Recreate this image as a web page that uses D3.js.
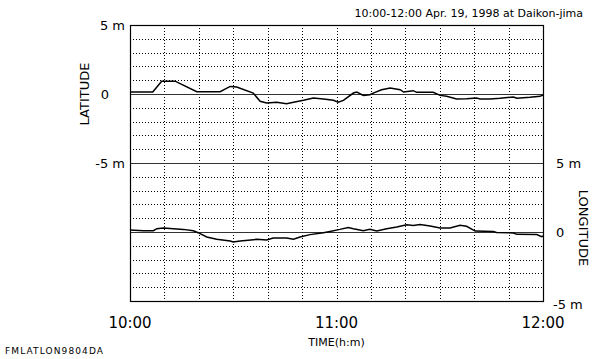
<!DOCTYPE html>
<html>
<head>
<meta charset="utf-8">
<script src="https://d3js.org/d3.v7.min.js"></script>
<style>
  body { margin: 0; background: #fff; }
  text { font-family: "DejaVu Sans", Verdana, sans-serif; fill: #000; }
</style>
</head>
<body>
<div id="chart"></div>
<script>
// minutes after 10:00
var latMinutes = [0, 6.6, 9.2, 13.1, 19.4, 26.2, 29.1, 31.0, 35.8, 37.8, 39.7, 42.6, 45.5, 47.5, 50.4, 53.3, 56.2, 59.1, 60.5, 62.0, 64.9, 65.9, 67.8, 69.7, 71.2, 73.1, 75.6, 78.5, 79.5, 82.3, 83.3, 88.1, 90.1, 92.0, 94.9, 97.8, 100.7, 101.7, 104.6, 107.5, 111.4, 112.4, 116.2, 119.1, 120];
var latValues = [0.15, 0.15, 0.93, 0.93, 0.17, 0.17, 0.55, 0.50, 0.07, -0.53, -0.65, -0.60, -0.70, -0.60, -0.46, -0.29, -0.36, -0.46, -0.60, -0.46, 0.07, 0.14, -0.10, -0.05, 0.12, 0.31, 0.43, 0.31, 0.14, 0.24, 0.12, 0.12, -0.10, -0.17, -0.36, -0.34, -0.29, -0.36, -0.36, -0.31, -0.22, -0.31, -0.24, -0.17, -0.07];

var lonMinutes = [0, 3.9, 6.8, 7.8, 9.7, 12.6, 15.5, 18.4, 19.8, 22.3, 25.2, 29.1, 30.0, 32.0, 36.8, 39.7, 41.6, 45.5, 47.5, 49.4, 52.3, 56.2, 58.1, 61.0, 63.4, 64.9, 67.8, 69.7, 71.7, 74.6, 77.5, 80.4, 82.3, 84.3, 87.2, 90.1, 93.0, 95.9, 97.8, 100.3, 105.6, 106.5, 111.4, 112.4, 118.2, 119.6, 120];
var lonValues = [0.14, 0.09, 0.09, 0.24, 0.29, 0.24, 0.19, 0.09, -0.05, -0.36, -0.53, -0.65, -0.72, -0.65, -0.53, -0.58, -0.43, -0.43, -0.53, -0.36, -0.19, -0.05, 0.04, 0.19, 0.33, 0.24, 0.09, 0.19, 0.07, 0.24, 0.36, 0.53, 0.48, 0.55, 0.43, 0.29, 0.29, 0.48, 0.41, 0.07, 0.04, -0.03, -0.07, -0.17, -0.19, -0.34, -0.29];

var timeTicks = [0, 60, 120];
var timeLabels = ["10:00", "11:00", "12:00"];
var gridMinutes = d3.range(10, 120, 10);
var gridMeters = [-4, -3, -2, -1, 1, 2, 3, 4];
var latTicks = [5, 0, -5];
var latLabels = ["5 m", "0", "-5 m"];
var lonTicks = [5, 0, -5];
var lonLabels = ["5 m", "0", "-5 m"];

var W = 593, H = 359;
var margin = {top: 25, right: 50, bottom: 58, left: 130};
var width = W - margin.left - margin.right,
    height = H - margin.top - margin.bottom;

var svg = d3.select("#chart").append("svg")
  .attr("width", W)
  .attr("height", H);

var g = svg.append("g")
  .attr("transform", "translate(" + margin.left + "," + margin.top + ")");

var x = d3.scaleLinear().domain([0, 120]).range([0, width]);
var yLat = d3.scaleLinear().domain([-5, 5]).range([height / 2, 0]);
var yLon = d3.scaleLinear().domain([-5, 5]).range([height, height / 2]);

// dotted grid
gridMinutes.forEach(function(m) {
  g.append("line")
    .attr("x1", Math.round(x(m)) + 0.5).attr("x2", Math.round(x(m)) + 0.5)
    .attr("y1", 0).attr("y2", height)
    .attr("stroke", "#000").attr("stroke-width", 1)
    .attr("stroke-dasharray", "1,2");
});
[yLat, yLon].forEach(function(y) {
  gridMeters.forEach(function(v) {
    g.append("line")
      .attr("x1", 0).attr("x2", width)
      .attr("y1", Math.round(y(v)) + 0.5).attr("y2", Math.round(y(v)) + 0.5)
      .attr("stroke", "#000").attr("stroke-width", 1)
      .attr("stroke-dasharray", "1,2");
  });
});

// solid reference lines
[yLat(0), yLat(-5), yLon(0)].forEach(function(yy) {
  g.append("line")
    .attr("x1", 0).attr("x2", width)
    .attr("y1", Math.round(yy) + 0.5).attr("y2", Math.round(yy) + 0.5)
    .attr("stroke", "#333").attr("stroke-width", 1);
});

// frame
g.append("rect")
  .attr("x", 0.5).attr("y", 0.5)
  .attr("width", width).attr("height", height)
  .attr("fill", "none").attr("stroke", "#000").attr("stroke-width", 1.2);

// data lines
var latLine = d3.line()
  .x(function(d) { return x(d[0]); })
  .y(function(d) { return yLat(d[1]); });
var lonLine = d3.line()
  .x(function(d) { return x(d[0]); })
  .y(function(d) { return yLon(d[1]); });

g.append("path")
  .datum(d3.zip(latMinutes, latValues))
  .attr("fill", "none").attr("stroke", "#000").attr("stroke-width", 1.5)
  .attr("d", latLine);
g.append("path")
  .datum(d3.zip(lonMinutes, lonValues))
  .attr("fill", "none").attr("stroke", "#000").attr("stroke-width", 1.5)
  .attr("d", lonLine);

// left axis labels
latTicks.forEach(function(v, i) {
  g.append("text")
    .attr("x", latLabels[i] === "0" ? -21 : -5)
    .attr("y", yLat(v))
    .attr("dy", "0.36em")
    .attr("text-anchor", "end")
    .style("font-size", "13px")
    .text(latLabels[i]);
});

// right axis labels
lonTicks.forEach(function(v, i) {
  g.append("text")
    .attr("x", width + (lonLabels[i] === "-5 m" ? 10 : 13))
    .attr("y", yLon(v) + (v === -5 ? 3 : 0))
    .attr("dy", "0.36em")
    .attr("text-anchor", "start")
    .style("font-size", "13px")
    .text(lonLabels[i]);
});

// x tick labels
timeTicks.forEach(function(t, i) {
  g.append("text")
    .attr("x", x(t))
    .attr("y", height + 27)
    .attr("text-anchor", "middle")
    .style("font-size", "15px")
    .text(timeLabels[i]);
});

g.append("text")
  .attr("x", x(60))
  .attr("y", height + 45)
  .attr("text-anchor", "middle")
  .style("font-size", "11px")
  .text("TIME(h:m)");

g.append("text")
  .attr("transform", "translate(-41," + yLat(0) + ") rotate(-90)")
  .attr("text-anchor", "middle")
  .style("font-size", "13px")
  .text("LATITUDE");

g.append("text")
  .attr("transform", "translate(" + (width + 36) + "," + (yLon(0) - 4) + ") rotate(90)")
  .attr("text-anchor", "middle")
  .style("font-size", "13px")
  .text("LONGITUDE");

svg.append("text")
  .attr("x", 583)
  .attr("y", 17)
  .attr("text-anchor", "end")
  .style("font-size", "11px")
  .text("10:00-12:00 Apr. 19, 1998 at Daikon-jima");

svg.append("text")
  .attr("x", 5)
  .attr("y", 354)
  .attr("textLength", 98)
  .style("font-size", "9px")
  .text("FMLATLON9804DA");
</script>
</body>
</html>
